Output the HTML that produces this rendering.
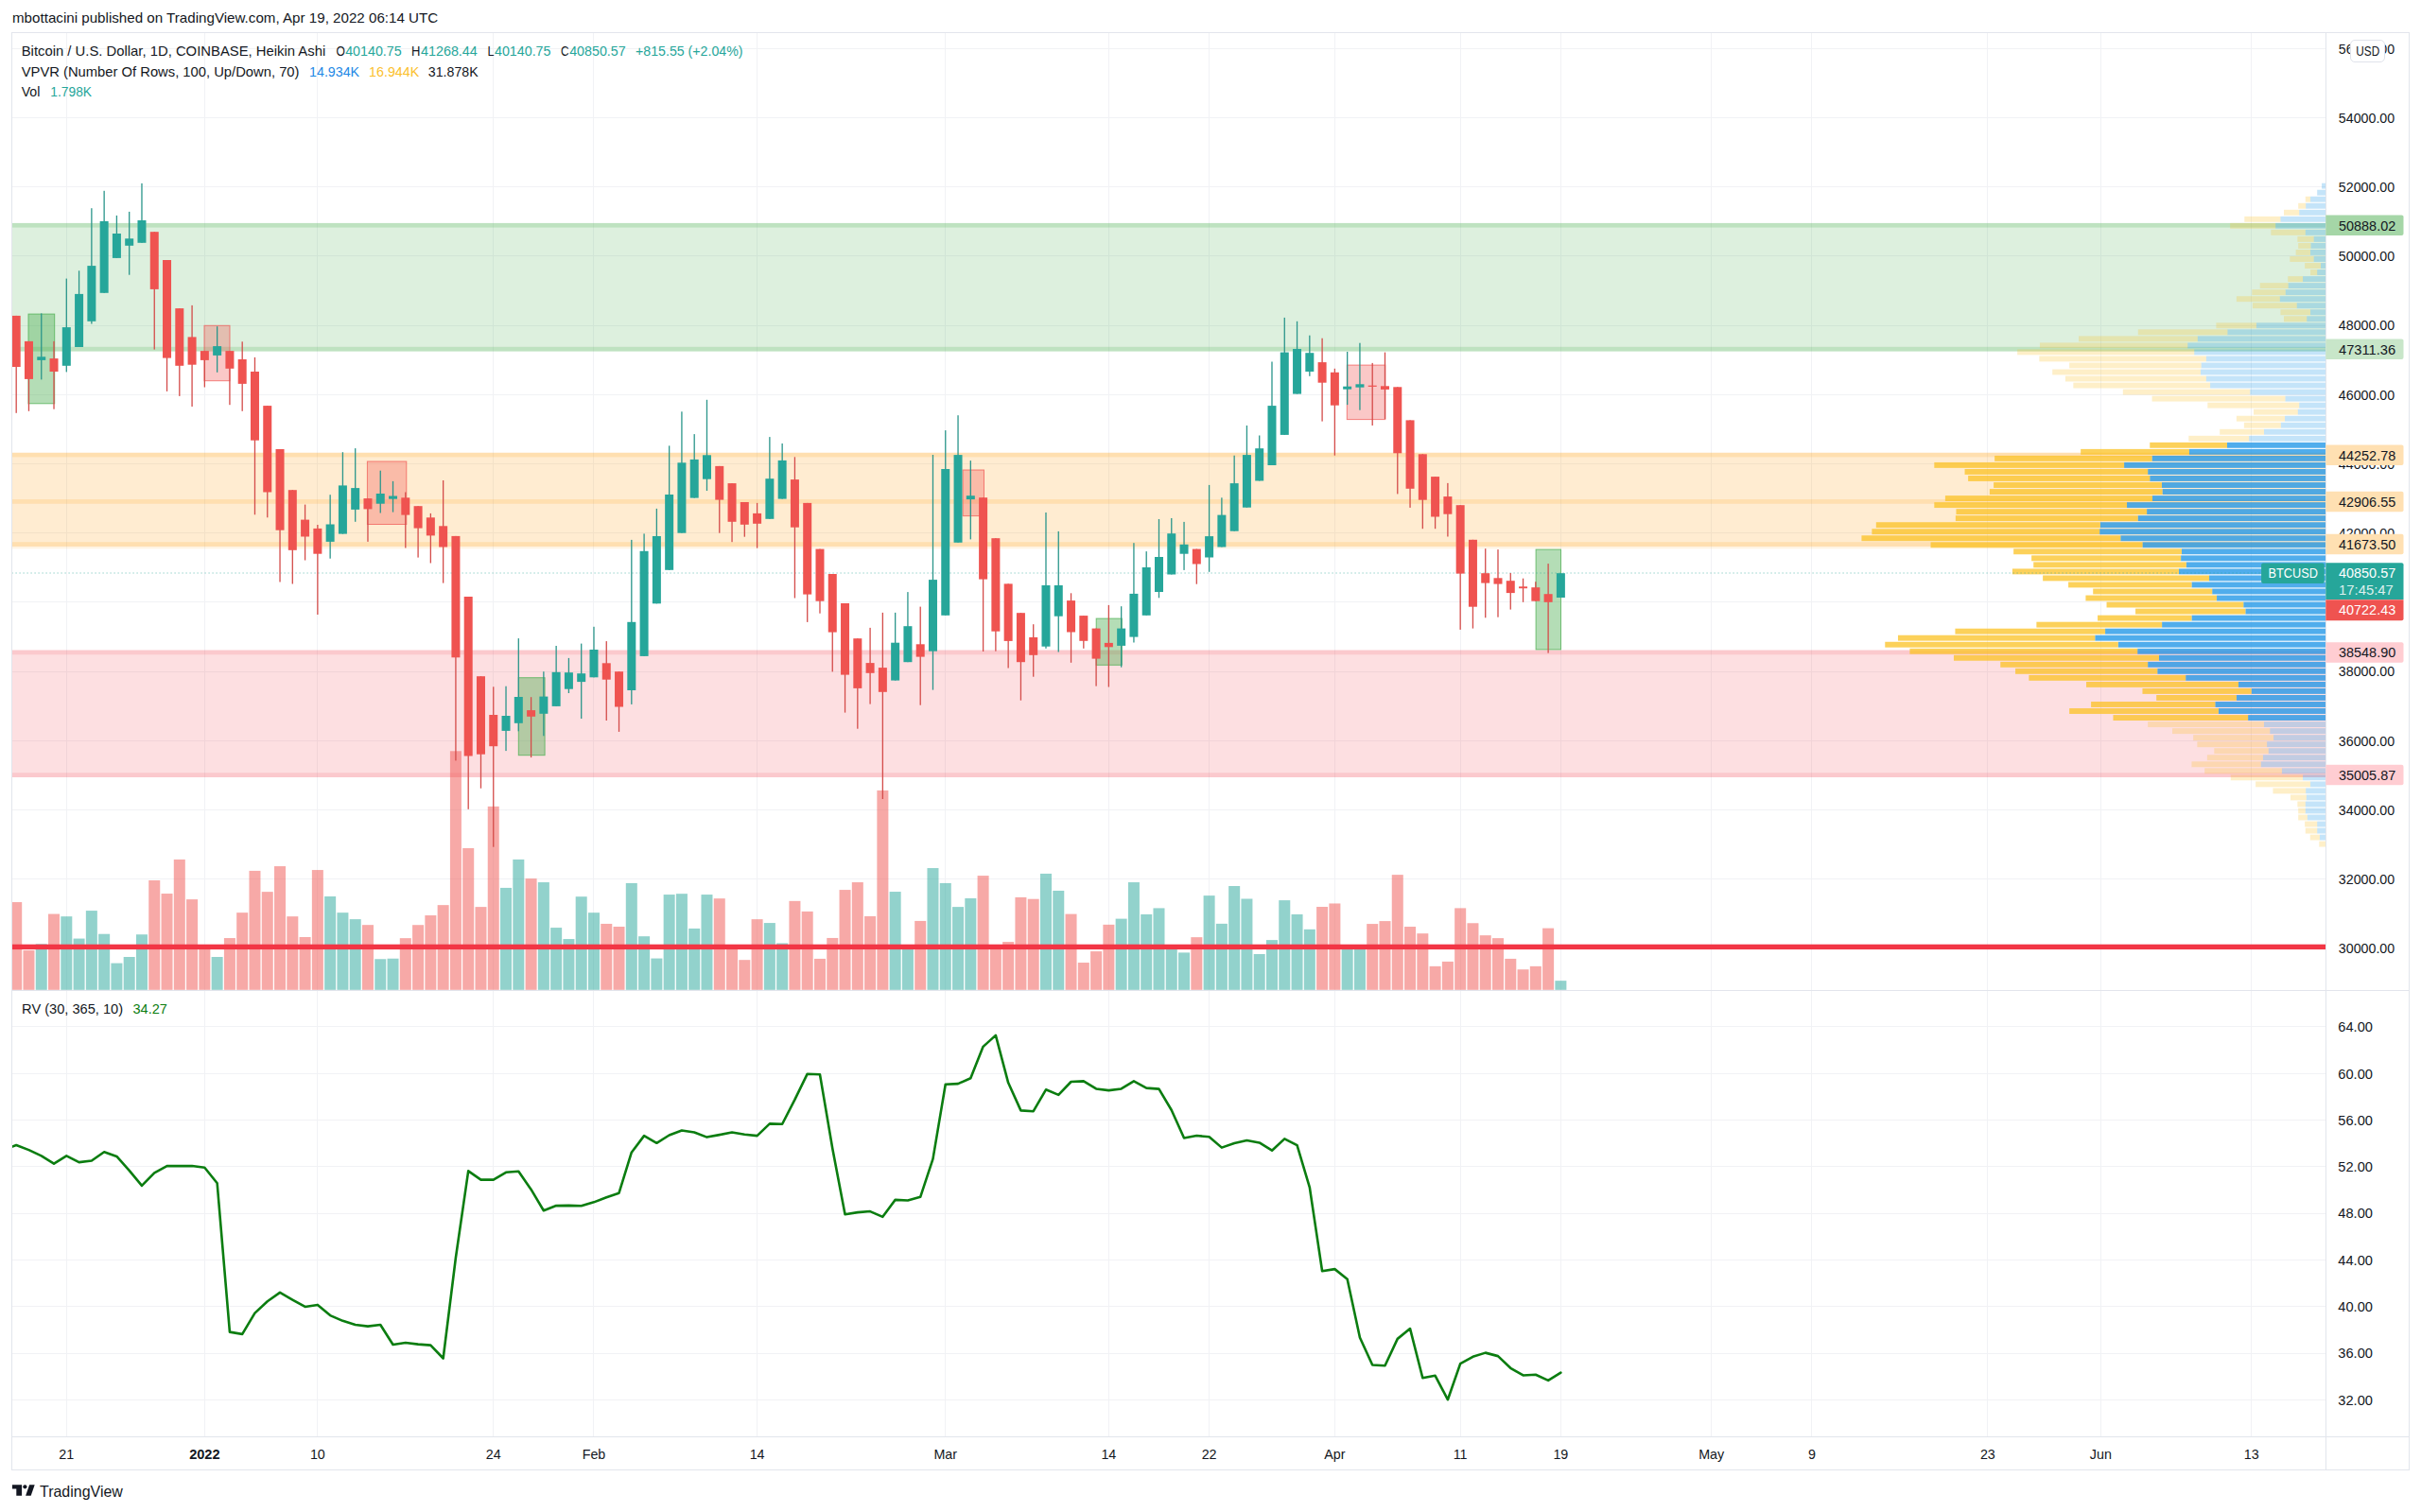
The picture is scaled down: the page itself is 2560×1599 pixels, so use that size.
<!DOCTYPE html>
<html lang="en"><head><meta charset="utf-8"><title>BTCUSD chart</title>
<style>html,body{margin:0;padding:0;background:#fff}body{width:2560px;height:1599px;overflow:hidden}svg{display:block}</style>
</head><body>
<svg width="2560" height="1599" viewBox="0 0 2560 1599" font-family='"Liberation Sans", "DejaVu Sans", sans-serif'>
<rect x="0" y="0" width="2560" height="1599" fill="#ffffff"/>
<defs><clipPath id="cm"><rect x="13.0" y="35.0" width="2446.5" height="1012.0"/></clipPath><clipPath id="cr"><rect x="13.0" y="1048.0" width="2446.5" height="471.0"/></clipPath></defs>
<g shape-rendering="crispEdges">
<line x1="70.5" y1="34.5" x2="70.5" y2="1519.5" stroke="#f1f2f5" stroke-width="1"/>
<line x1="216.5" y1="34.5" x2="216.5" y2="1519.5" stroke="#f1f2f5" stroke-width="1"/>
<line x1="335.5" y1="34.5" x2="335.5" y2="1519.5" stroke="#f1f2f5" stroke-width="1"/>
<line x1="521.5" y1="34.5" x2="521.5" y2="1519.5" stroke="#f1f2f5" stroke-width="1"/>
<line x1="627.5" y1="34.5" x2="627.5" y2="1519.5" stroke="#f1f2f5" stroke-width="1"/>
<line x1="800.5" y1="34.5" x2="800.5" y2="1519.5" stroke="#f1f2f5" stroke-width="1"/>
<line x1="999.5" y1="34.5" x2="999.5" y2="1519.5" stroke="#f1f2f5" stroke-width="1"/>
<line x1="1172.5" y1="34.5" x2="1172.5" y2="1519.5" stroke="#f1f2f5" stroke-width="1"/>
<line x1="1278.5" y1="34.5" x2="1278.5" y2="1519.5" stroke="#f1f2f5" stroke-width="1"/>
<line x1="1411.5" y1="34.5" x2="1411.5" y2="1519.5" stroke="#f1f2f5" stroke-width="1"/>
<line x1="1544.5" y1="34.5" x2="1544.5" y2="1519.5" stroke="#f1f2f5" stroke-width="1"/>
<line x1="1650.5" y1="34.5" x2="1650.5" y2="1519.5" stroke="#f1f2f5" stroke-width="1"/>
<line x1="1809.5" y1="34.5" x2="1809.5" y2="1519.5" stroke="#f1f2f5" stroke-width="1"/>
<line x1="1915.5" y1="34.5" x2="1915.5" y2="1519.5" stroke="#f1f2f5" stroke-width="1"/>
<line x1="2101.5" y1="34.5" x2="2101.5" y2="1519.5" stroke="#f1f2f5" stroke-width="1"/>
<line x1="2221.5" y1="34.5" x2="2221.5" y2="1519.5" stroke="#f1f2f5" stroke-width="1"/>
<line x1="2380.5" y1="34.5" x2="2380.5" y2="1519.5" stroke="#f1f2f5" stroke-width="1"/>
<line x1="12.5" y1="1002.5" x2="2459.5" y2="1002.5" stroke="#f1f2f5" stroke-width="1"/>
<line x1="12.5" y1="929.5" x2="2459.5" y2="929.5" stroke="#f1f2f5" stroke-width="1"/>
<line x1="12.5" y1="856.5" x2="2459.5" y2="856.5" stroke="#f1f2f5" stroke-width="1"/>
<line x1="12.5" y1="783.5" x2="2459.5" y2="783.5" stroke="#f1f2f5" stroke-width="1"/>
<line x1="12.5" y1="710.5" x2="2459.5" y2="710.5" stroke="#f1f2f5" stroke-width="1"/>
<line x1="12.5" y1="636.5" x2="2459.5" y2="636.5" stroke="#f1f2f5" stroke-width="1"/>
<line x1="12.5" y1="563.5" x2="2459.5" y2="563.5" stroke="#f1f2f5" stroke-width="1"/>
<line x1="12.5" y1="490.5" x2="2459.5" y2="490.5" stroke="#f1f2f5" stroke-width="1"/>
<line x1="12.5" y1="417.5" x2="2459.5" y2="417.5" stroke="#f1f2f5" stroke-width="1"/>
<line x1="12.5" y1="344.5" x2="2459.5" y2="344.5" stroke="#f1f2f5" stroke-width="1"/>
<line x1="12.5" y1="270.5" x2="2459.5" y2="270.5" stroke="#f1f2f5" stroke-width="1"/>
<line x1="12.5" y1="197.5" x2="2459.5" y2="197.5" stroke="#f1f2f5" stroke-width="1"/>
<line x1="12.5" y1="124.5" x2="2459.5" y2="124.5" stroke="#f1f2f5" stroke-width="1"/>
<line x1="12.5" y1="51.5" x2="2459.5" y2="51.5" stroke="#f1f2f5" stroke-width="1"/>
<line x1="12.5" y1="1480.5" x2="2459.5" y2="1480.5" stroke="#f1f2f5" stroke-width="1"/>
<line x1="12.5" y1="1431.5" x2="2459.5" y2="1431.5" stroke="#f1f2f5" stroke-width="1"/>
<line x1="12.5" y1="1381.5" x2="2459.5" y2="1381.5" stroke="#f1f2f5" stroke-width="1"/>
<line x1="12.5" y1="1332.5" x2="2459.5" y2="1332.5" stroke="#f1f2f5" stroke-width="1"/>
<line x1="12.5" y1="1283.5" x2="2459.5" y2="1283.5" stroke="#f1f2f5" stroke-width="1"/>
<line x1="12.5" y1="1233.5" x2="2459.5" y2="1233.5" stroke="#f1f2f5" stroke-width="1"/>
<line x1="12.5" y1="1184.5" x2="2459.5" y2="1184.5" stroke="#f1f2f5" stroke-width="1"/>
<line x1="12.5" y1="1135.5" x2="2459.5" y2="1135.5" stroke="#f1f2f5" stroke-width="1"/>
<line x1="12.5" y1="1085.5" x2="2459.5" y2="1085.5" stroke="#f1f2f5" stroke-width="1"/>
</g>
<g clip-path="url(#cm)">
<rect x="12.5" y="240.7" width="2447" height="126.11" fill="rgba(76,175,80,0.19)"/>
<rect x="12.5" y="235.9" width="2447" height="4.8" fill="rgba(76,175,80,0.36)"/>
<rect x="12.5" y="366.8" width="2447" height="4.8" fill="rgba(76,175,80,0.36)"/>
<rect x="12.5" y="483.55" width="2447" height="44.47" fill="rgba(255,152,0,0.18)"/>
<rect x="12.5" y="532.82" width="2447" height="40.33" fill="rgba(255,152,0,0.18)"/>
<rect x="12.5" y="478.75" width="2447" height="4.8" fill="rgba(255,152,0,0.31)"/>
<rect x="12.5" y="528.02" width="2447" height="4.8" fill="rgba(255,152,0,0.31)"/>
<rect x="12.5" y="573.15" width="2447" height="4.8" fill="rgba(255,152,0,0.31)"/>
<rect x="12.5" y="577.95" width="2447" height="2.4" fill="rgba(255,152,0,0.108)"/>
<rect x="12.5" y="692.31" width="2447" height="124.87" fill="rgba(242,54,69,0.16)"/>
<rect x="12.5" y="687.51" width="2447" height="4.8" fill="rgba(242,54,69,0.27)"/>
<rect x="12.5" y="817.19" width="2447" height="4.8" fill="rgba(242,54,69,0.27)"/>
<rect x="2455.05" y="193.7" width="4.25" height="5.9" fill="rgba(21,146,230,0.25)"/>
<rect x="2450.2" y="200.73" width="9.1" height="5.9" fill="rgba(21,146,230,0.25)"/>
<rect x="2443.04" y="207.76" width="16.26" height="5.9" fill="rgba(21,146,230,0.25)"/>
<rect x="2437.78" y="207.76" width="5.27" height="5.9" fill="rgba(251,193,35,0.25)"/>
<rect x="2438.2" y="214.79" width="21.1" height="5.9" fill="rgba(21,146,230,0.25)"/>
<rect x="2430.19" y="214.79" width="8.01" height="5.9" fill="rgba(251,193,35,0.25)"/>
<rect x="2431.24" y="221.82" width="28.06" height="5.9" fill="rgba(21,146,230,0.25)"/>
<rect x="2415.02" y="221.82" width="16.22" height="5.9" fill="rgba(251,193,35,0.25)"/>
<rect x="2411.44" y="228.85" width="47.86" height="5.9" fill="rgba(21,146,230,0.25)"/>
<rect x="2373.31" y="228.85" width="38.13" height="5.9" fill="rgba(251,193,35,0.25)"/>
<rect x="2406.18" y="235.88" width="53.12" height="5.9" fill="rgba(21,146,230,0.25)"/>
<rect x="2358.15" y="235.88" width="48.03" height="5.9" fill="rgba(251,193,35,0.25)"/>
<rect x="2437.78" y="242.91" width="21.52" height="5.9" fill="rgba(21,146,230,0.25)"/>
<rect x="2401.33" y="242.91" width="36.44" height="5.9" fill="rgba(251,193,35,0.25)"/>
<rect x="2446.62" y="249.94" width="12.68" height="5.9" fill="rgba(21,146,230,0.25)"/>
<rect x="2429.35" y="249.94" width="17.27" height="5.9" fill="rgba(251,193,35,0.25)"/>
<rect x="2443.46" y="256.97" width="15.84" height="5.9" fill="rgba(21,146,230,0.25)"/>
<rect x="2430.19" y="256.97" width="13.27" height="5.9" fill="rgba(251,193,35,0.25)"/>
<rect x="2443.04" y="264" width="16.26" height="5.9" fill="rgba(21,146,230,0.25)"/>
<rect x="2427.66" y="264" width="15.38" height="5.9" fill="rgba(251,193,35,0.25)"/>
<rect x="2446.62" y="271.03" width="12.68" height="5.9" fill="rgba(21,146,230,0.25)"/>
<rect x="2421.34" y="271.03" width="25.28" height="5.9" fill="rgba(251,193,35,0.25)"/>
<rect x="2454" y="278.06" width="5.3" height="5.9" fill="rgba(21,146,230,0.25)"/>
<rect x="2437.14" y="278.06" width="16.85" height="5.9" fill="rgba(251,193,35,0.25)"/>
<rect x="2450.2" y="285.09" width="9.1" height="5.9" fill="rgba(21,146,230,0.25)"/>
<rect x="2443.04" y="285.09" width="7.16" height="5.9" fill="rgba(251,193,35,0.25)"/>
<rect x="2435.04" y="292.12" width="24.26" height="5.9" fill="rgba(21,146,230,0.25)"/>
<rect x="2419.24" y="292.12" width="15.8" height="5.9" fill="rgba(251,193,35,0.25)"/>
<rect x="2419.66" y="299.15" width="39.64" height="5.9" fill="rgba(21,146,230,0.25)"/>
<rect x="2389.75" y="299.15" width="29.91" height="5.9" fill="rgba(251,193,35,0.25)"/>
<rect x="2416.71" y="306.18" width="42.59" height="5.9" fill="rgba(21,146,230,0.25)"/>
<rect x="2381.32" y="306.18" width="35.39" height="5.9" fill="rgba(251,193,35,0.25)"/>
<rect x="2410.81" y="313.21" width="48.49" height="5.9" fill="rgba(21,146,230,0.25)"/>
<rect x="2364.89" y="313.21" width="45.92" height="5.9" fill="rgba(251,193,35,0.25)"/>
<rect x="2428.72" y="320.24" width="30.58" height="5.9" fill="rgba(21,146,230,0.25)"/>
<rect x="2381.95" y="320.24" width="46.77" height="5.9" fill="rgba(251,193,35,0.25)"/>
<rect x="2443.04" y="327.27" width="16.26" height="5.9" fill="rgba(21,146,230,0.25)"/>
<rect x="2411.44" y="327.27" width="31.6" height="5.9" fill="rgba(251,193,35,0.25)"/>
<rect x="2439.25" y="334.3" width="20.05" height="5.9" fill="rgba(21,146,230,0.25)"/>
<rect x="2415.02" y="334.3" width="24.23" height="5.9" fill="rgba(251,193,35,0.25)"/>
<rect x="2385.95" y="341.33" width="73.35" height="5.9" fill="rgba(21,146,230,0.25)"/>
<rect x="2343.4" y="341.33" width="42.55" height="5.9" fill="rgba(251,193,35,0.25)"/>
<rect x="2355.41" y="348.36" width="103.89" height="5.9" fill="rgba(21,146,230,0.25)"/>
<rect x="2260.82" y="348.36" width="94.59" height="5.9" fill="rgba(251,193,35,0.25)"/>
<rect x="2323.81" y="355.39" width="135.49" height="5.9" fill="rgba(21,146,230,0.25)"/>
<rect x="2198.05" y="355.39" width="125.76" height="5.9" fill="rgba(251,193,35,0.25)"/>
<rect x="2313.28" y="362.42" width="146.02" height="5.9" fill="rgba(21,146,230,0.25)"/>
<rect x="2156.97" y="362.42" width="156.31" height="5.9" fill="rgba(251,193,35,0.25)"/>
<rect x="2320.23" y="369.45" width="139.07" height="5.9" fill="rgba(21,146,230,0.25)"/>
<rect x="2133.16" y="369.45" width="187.07" height="5.9" fill="rgba(251,193,35,0.25)"/>
<rect x="2332.87" y="376.48" width="126.43" height="5.9" fill="rgba(21,146,230,0.25)"/>
<rect x="2156.33" y="376.48" width="176.53" height="5.9" fill="rgba(251,193,35,0.25)"/>
<rect x="2327.6" y="383.51" width="131.7" height="5.9" fill="rgba(21,146,230,0.25)"/>
<rect x="2188.14" y="383.51" width="139.46" height="5.9" fill="rgba(251,193,35,0.25)"/>
<rect x="2326.97" y="390.54" width="132.33" height="5.9" fill="rgba(21,146,230,0.25)"/>
<rect x="2170.24" y="390.54" width="156.73" height="5.9" fill="rgba(251,193,35,0.25)"/>
<rect x="2332.87" y="397.57" width="126.43" height="5.9" fill="rgba(21,146,230,0.25)"/>
<rect x="2183.93" y="397.57" width="148.94" height="5.9" fill="rgba(251,193,35,0.25)"/>
<rect x="2337.08" y="404.6" width="122.22" height="5.9" fill="rgba(21,146,230,0.25)"/>
<rect x="2192.36" y="404.6" width="144.72" height="5.9" fill="rgba(251,193,35,0.25)"/>
<rect x="2379.21" y="411.63" width="80.09" height="5.9" fill="rgba(21,146,230,0.25)"/>
<rect x="2244.81" y="411.63" width="134.4" height="5.9" fill="rgba(251,193,35,0.25)"/>
<rect x="2416.5" y="418.66" width="42.8" height="5.9" fill="rgba(21,146,230,0.25)"/>
<rect x="2275.57" y="418.66" width="140.93" height="5.9" fill="rgba(251,193,35,0.25)"/>
<rect x="2431.24" y="425.69" width="28.06" height="5.9" fill="rgba(21,146,230,0.25)"/>
<rect x="2334.34" y="425.69" width="96.9" height="5.9" fill="rgba(251,193,35,0.25)"/>
<rect x="2429.77" y="432.72" width="29.53" height="5.9" fill="rgba(21,146,230,0.25)"/>
<rect x="2383" y="432.72" width="46.77" height="5.9" fill="rgba(251,193,35,0.25)"/>
<rect x="2416.08" y="439.75" width="43.22" height="5.9" fill="rgba(21,146,230,0.25)"/>
<rect x="2364.89" y="439.75" width="51.19" height="5.9" fill="rgba(251,193,35,0.25)"/>
<rect x="2411.86" y="446.78" width="47.44" height="5.9" fill="rgba(21,146,230,0.25)"/>
<rect x="2372.89" y="446.78" width="38.97" height="5.9" fill="rgba(251,193,35,0.25)"/>
<rect x="2393.96" y="453.81" width="65.34" height="5.9" fill="rgba(21,146,230,0.25)"/>
<rect x="2347.19" y="453.81" width="46.77" height="5.9" fill="rgba(251,193,35,0.25)"/>
<rect x="2378.16" y="460.84" width="81.14" height="5.9" fill="rgba(21,146,230,0.25)"/>
<rect x="2314.33" y="460.84" width="63.83" height="5.9" fill="rgba(251,193,35,0.25)"/>
<rect x="2354.99" y="467.87" width="104.31" height="5.9" fill="rgba(21,146,230,0.75)"/>
<rect x="2273.25" y="467.87" width="81.74" height="5.9" fill="rgba(251,193,35,0.75)"/>
<rect x="2314.96" y="474.9" width="144.34" height="5.9" fill="rgba(21,146,230,0.75)"/>
<rect x="2200.15" y="474.9" width="114.81" height="5.9" fill="rgba(251,193,35,0.75)"/>
<rect x="2275.57" y="481.93" width="183.73" height="5.9" fill="rgba(21,146,230,0.75)"/>
<rect x="2109.15" y="481.93" width="166.42" height="5.9" fill="rgba(251,193,35,0.75)"/>
<rect x="2246.08" y="488.96" width="213.22" height="5.9" fill="rgba(21,146,230,0.75)"/>
<rect x="2045.32" y="488.96" width="200.76" height="5.9" fill="rgba(251,193,35,0.75)"/>
<rect x="2271.14" y="495.99" width="188.16" height="5.9" fill="rgba(21,146,230,0.75)"/>
<rect x="2077.55" y="495.99" width="193.6" height="5.9" fill="rgba(251,193,35,0.75)"/>
<rect x="2273.25" y="503.02" width="186.05" height="5.9" fill="rgba(21,146,230,0.75)"/>
<rect x="2081.13" y="503.02" width="192.12" height="5.9" fill="rgba(251,193,35,0.75)"/>
<rect x="2285.89" y="510.05" width="173.41" height="5.9" fill="rgba(21,146,230,0.75)"/>
<rect x="2108.09" y="510.05" width="177.8" height="5.9" fill="rgba(251,193,35,0.75)"/>
<rect x="2286.52" y="517.08" width="172.78" height="5.9" fill="rgba(21,146,230,0.75)"/>
<rect x="2103.88" y="517.08" width="182.64" height="5.9" fill="rgba(251,193,35,0.75)"/>
<rect x="2275.99" y="524.11" width="183.31" height="5.9" fill="rgba(21,146,230,0.75)"/>
<rect x="2056.9" y="524.11" width="219.09" height="5.9" fill="rgba(251,193,35,0.75)"/>
<rect x="2249.02" y="531.14" width="210.28" height="5.9" fill="rgba(21,146,230,0.75)"/>
<rect x="2045.32" y="531.14" width="203.71" height="5.9" fill="rgba(251,193,35,0.75)"/>
<rect x="2270.09" y="538.17" width="189.21" height="5.9" fill="rgba(21,146,230,0.75)"/>
<rect x="2068.49" y="538.17" width="201.6" height="5.9" fill="rgba(251,193,35,0.75)"/>
<rect x="2260.61" y="545.2" width="198.69" height="5.9" fill="rgba(21,146,230,0.75)"/>
<rect x="2067.86" y="545.2" width="192.75" height="5.9" fill="rgba(251,193,35,0.75)"/>
<rect x="2220.8" y="552.23" width="238.5" height="5.9" fill="rgba(21,146,230,0.75)"/>
<rect x="1983.8" y="552.23" width="236.99" height="5.9" fill="rgba(251,193,35,0.75)"/>
<rect x="2220.16" y="559.26" width="239.14" height="5.9" fill="rgba(21,146,230,0.75)"/>
<rect x="1979.38" y="559.26" width="240.78" height="5.9" fill="rgba(251,193,35,0.75)"/>
<rect x="2242.28" y="566.29" width="217.02" height="5.9" fill="rgba(21,146,230,0.75)"/>
<rect x="1968.43" y="566.29" width="273.86" height="5.9" fill="rgba(251,193,35,0.75)"/>
<rect x="2265.46" y="573.32" width="193.84" height="5.9" fill="rgba(21,146,230,0.75)"/>
<rect x="2041.53" y="573.32" width="223.93" height="5.9" fill="rgba(251,193,35,0.75)"/>
<rect x="2306.96" y="580.35" width="152.34" height="5.9" fill="rgba(21,146,230,0.75)"/>
<rect x="2129.16" y="580.35" width="177.8" height="5.9" fill="rgba(251,193,35,0.75)"/>
<rect x="2306.11" y="587.38" width="153.19" height="5.9" fill="rgba(21,146,230,0.75)"/>
<rect x="2148.12" y="587.38" width="157.99" height="5.9" fill="rgba(251,193,35,0.75)"/>
<rect x="2311.8" y="594.41" width="147.5" height="5.9" fill="rgba(21,146,230,0.75)"/>
<rect x="2150.23" y="594.41" width="161.58" height="5.9" fill="rgba(251,193,35,0.75)"/>
<rect x="2304.01" y="601.44" width="155.29" height="5.9" fill="rgba(21,146,230,0.75)"/>
<rect x="2127.9" y="601.44" width="176.11" height="5.9" fill="rgba(251,193,35,0.75)"/>
<rect x="2336.03" y="608.47" width="123.27" height="5.9" fill="rgba(21,146,230,0.75)"/>
<rect x="2160.13" y="608.47" width="175.9" height="5.9" fill="rgba(251,193,35,0.75)"/>
<rect x="2317.49" y="615.5" width="141.81" height="5.9" fill="rgba(21,146,230,0.75)"/>
<rect x="2187.09" y="615.5" width="130.4" height="5.9" fill="rgba(251,193,35,0.75)"/>
<rect x="2339.19" y="622.53" width="120.11" height="5.9" fill="rgba(21,146,230,0.75)"/>
<rect x="2213.21" y="622.53" width="125.97" height="5.9" fill="rgba(251,193,35,0.75)"/>
<rect x="2344.03" y="629.56" width="115.27" height="5.9" fill="rgba(21,146,230,0.75)"/>
<rect x="2205.42" y="629.56" width="138.61" height="5.9" fill="rgba(251,193,35,0.75)"/>
<rect x="2372.26" y="636.59" width="87.04" height="5.9" fill="rgba(21,146,230,0.75)"/>
<rect x="2227.54" y="636.59" width="144.72" height="5.9" fill="rgba(251,193,35,0.75)"/>
<rect x="2374.37" y="643.62" width="84.93" height="5.9" fill="rgba(21,146,230,0.75)"/>
<rect x="2258.08" y="643.62" width="116.28" height="5.9" fill="rgba(251,193,35,0.75)"/>
<rect x="2317.49" y="650.65" width="141.81" height="5.9" fill="rgba(21,146,230,0.75)"/>
<rect x="2218.06" y="650.65" width="99.43" height="5.9" fill="rgba(251,193,35,0.75)"/>
<rect x="2286.1" y="657.68" width="173.2" height="5.9" fill="rgba(21,146,230,0.75)"/>
<rect x="2153.39" y="657.68" width="132.72" height="5.9" fill="rgba(251,193,35,0.75)"/>
<rect x="2226.06" y="664.71" width="233.24" height="5.9" fill="rgba(21,146,230,0.75)"/>
<rect x="2067.44" y="664.71" width="158.63" height="5.9" fill="rgba(251,193,35,0.75)"/>
<rect x="2215.32" y="671.74" width="243.98" height="5.9" fill="rgba(21,146,230,0.75)"/>
<rect x="2006.98" y="671.74" width="208.34" height="5.9" fill="rgba(251,193,35,0.75)"/>
<rect x="2239.76" y="678.77" width="219.54" height="5.9" fill="rgba(21,146,230,0.75)"/>
<rect x="1993.28" y="678.77" width="246.47" height="5.9" fill="rgba(251,193,35,0.75)"/>
<rect x="2260.19" y="685.8" width="199.11" height="5.9" fill="rgba(21,146,230,0.75)"/>
<rect x="2019.41" y="685.8" width="240.78" height="5.9" fill="rgba(251,193,35,0.75)"/>
<rect x="2282.94" y="692.83" width="176.36" height="5.9" fill="rgba(21,146,230,0.75)"/>
<rect x="2065.96" y="692.83" width="216.98" height="5.9" fill="rgba(251,193,35,0.75)"/>
<rect x="2271.14" y="699.86" width="188.16" height="5.9" fill="rgba(21,146,230,0.75)"/>
<rect x="2115.26" y="699.86" width="155.89" height="5.9" fill="rgba(251,193,35,0.75)"/>
<rect x="2281.26" y="706.89" width="178.04" height="5.9" fill="rgba(21,146,230,0.75)"/>
<rect x="2131.06" y="706.89" width="150.2" height="5.9" fill="rgba(251,193,35,0.75)"/>
<rect x="2311.17" y="713.92" width="148.13" height="5.9" fill="rgba(21,146,230,0.75)"/>
<rect x="2145.38" y="713.92" width="165.79" height="5.9" fill="rgba(251,193,35,0.75)"/>
<rect x="2366.99" y="720.95" width="92.31" height="5.9" fill="rgba(21,146,230,0.75)"/>
<rect x="2206.05" y="720.95" width="160.94" height="5.9" fill="rgba(251,193,35,0.75)"/>
<rect x="2380.69" y="727.98" width="78.61" height="5.9" fill="rgba(21,146,230,0.75)"/>
<rect x="2265.46" y="727.98" width="115.23" height="5.9" fill="rgba(251,193,35,0.75)"/>
<rect x="2364.89" y="735.01" width="94.41" height="5.9" fill="rgba(21,146,230,0.75)"/>
<rect x="2280.2" y="735.01" width="84.69" height="5.9" fill="rgba(251,193,35,0.75)"/>
<rect x="2342.35" y="742.04" width="116.95" height="5.9" fill="rgba(21,146,230,0.75)"/>
<rect x="2211.11" y="742.04" width="131.24" height="5.9" fill="rgba(251,193,35,0.75)"/>
<rect x="2345.93" y="749.07" width="113.37" height="5.9" fill="rgba(21,146,230,0.75)"/>
<rect x="2188.14" y="749.07" width="157.78" height="5.9" fill="rgba(251,193,35,0.75)"/>
<rect x="2377.11" y="756.1" width="82.19" height="5.9" fill="rgba(21,146,230,0.75)"/>
<rect x="2234.49" y="756.1" width="142.62" height="5.9" fill="rgba(251,193,35,0.75)"/>
<rect x="2393.96" y="763.13" width="65.34" height="5.9" fill="rgba(21,146,230,0.25)"/>
<rect x="2271.14" y="763.13" width="122.81" height="5.9" fill="rgba(251,193,35,0.25)"/>
<rect x="2400.28" y="770.16" width="59.02" height="5.9" fill="rgba(21,146,230,0.25)"/>
<rect x="2297.05" y="770.16" width="103.22" height="5.9" fill="rgba(251,193,35,0.25)"/>
<rect x="2404.07" y="777.19" width="55.23" height="5.9" fill="rgba(21,146,230,0.25)"/>
<rect x="2319.17" y="777.19" width="84.9" height="5.9" fill="rgba(251,193,35,0.25)"/>
<rect x="2397.12" y="784.22" width="62.18" height="5.9" fill="rgba(21,146,230,0.25)"/>
<rect x="2323.39" y="784.22" width="73.73" height="5.9" fill="rgba(251,193,35,0.25)"/>
<rect x="2398.8" y="791.25" width="60.5" height="5.9" fill="rgba(21,146,230,0.25)"/>
<rect x="2341.29" y="791.25" width="57.51" height="5.9" fill="rgba(251,193,35,0.25)"/>
<rect x="2392.9" y="798.28" width="66.4" height="5.9" fill="rgba(21,146,230,0.25)"/>
<rect x="2333.92" y="798.28" width="58.98" height="5.9" fill="rgba(251,193,35,0.25)"/>
<rect x="2390.8" y="805.31" width="68.5" height="5.9" fill="rgba(21,146,230,0.25)"/>
<rect x="2317.49" y="805.31" width="73.31" height="5.9" fill="rgba(251,193,35,0.25)"/>
<rect x="2412.92" y="812.34" width="46.38" height="5.9" fill="rgba(21,146,230,0.25)"/>
<rect x="2331.18" y="812.34" width="81.74" height="5.9" fill="rgba(251,193,35,0.25)"/>
<rect x="2435.04" y="819.37" width="24.26" height="5.9" fill="rgba(21,146,230,0.25)"/>
<rect x="2358.78" y="819.37" width="76.26" height="5.9" fill="rgba(251,193,35,0.25)"/>
<rect x="2443.04" y="826.4" width="16.26" height="5.9" fill="rgba(21,146,230,0.25)"/>
<rect x="2385.11" y="826.4" width="57.93" height="5.9" fill="rgba(251,193,35,0.25)"/>
<rect x="2438.2" y="833.43" width="21.1" height="5.9" fill="rgba(21,146,230,0.25)"/>
<rect x="2403.44" y="833.43" width="34.76" height="5.9" fill="rgba(251,193,35,0.25)"/>
<rect x="2438.83" y="840.46" width="20.47" height="5.9" fill="rgba(21,146,230,0.25)"/>
<rect x="2421.98" y="840.46" width="16.85" height="5.9" fill="rgba(251,193,35,0.25)"/>
<rect x="2437.78" y="847.49" width="21.52" height="5.9" fill="rgba(21,146,230,0.25)"/>
<rect x="2429.35" y="847.49" width="8.43" height="5.9" fill="rgba(251,193,35,0.25)"/>
<rect x="2437.78" y="854.52" width="21.52" height="5.9" fill="rgba(21,146,230,0.25)"/>
<rect x="2430.19" y="854.52" width="7.58" height="5.9" fill="rgba(251,193,35,0.25)"/>
<rect x="2439.88" y="861.55" width="19.42" height="5.9" fill="rgba(21,146,230,0.25)"/>
<rect x="2430.19" y="861.55" width="9.69" height="5.9" fill="rgba(251,193,35,0.25)"/>
<rect x="2450.2" y="868.58" width="9.1" height="5.9" fill="rgba(21,146,230,0.25)"/>
<rect x="2437.14" y="868.58" width="13.06" height="5.9" fill="rgba(251,193,35,0.25)"/>
<rect x="2450.2" y="875.61" width="9.1" height="5.9" fill="rgba(21,146,230,0.25)"/>
<rect x="2437.78" y="875.61" width="12.43" height="5.9" fill="rgba(251,193,35,0.25)"/>
<rect x="2452.94" y="882.64" width="6.36" height="5.9" fill="rgba(21,146,230,0.25)"/>
<rect x="2442.83" y="882.64" width="10.11" height="5.9" fill="rgba(251,193,35,0.25)"/>
<rect x="2459.26" y="889.67" width="0.04" height="5.9" fill="rgba(21,146,230,0.25)"/>
<rect x="2452.31" y="889.67" width="6.95" height="5.9" fill="rgba(251,193,35,0.25)"/>
<rect x="11.19" y="954.06" width="12" height="92.74" fill="rgba(239,83,80,0.5)"/>
<rect x="24.47" y="1005.07" width="12" height="41.73" fill="rgba(239,83,80,0.5)"/>
<rect x="37.75" y="998.3" width="12" height="48.5" fill="rgba(38,166,154,0.5)"/>
<rect x="51.02" y="966.55" width="12" height="80.25" fill="rgba(239,83,80,0.5)"/>
<rect x="64.3" y="969.15" width="12" height="77.65" fill="rgba(38,166,154,0.5)"/>
<rect x="77.58" y="992.57" width="12" height="54.23" fill="rgba(38,166,154,0.5)"/>
<rect x="90.86" y="963.08" width="12" height="83.72" fill="rgba(38,166,154,0.5)"/>
<rect x="104.14" y="987.72" width="12" height="59.08" fill="rgba(38,166,154,0.5)"/>
<rect x="117.41" y="1018.6" width="12" height="28.2" fill="rgba(38,166,154,0.5)"/>
<rect x="130.69" y="1012.01" width="12" height="34.79" fill="rgba(38,166,154,0.5)"/>
<rect x="143.97" y="988.24" width="12" height="58.56" fill="rgba(38,166,154,0.5)"/>
<rect x="157.25" y="930.99" width="12" height="115.81" fill="rgba(239,83,80,0.5)"/>
<rect x="170.53" y="945.04" width="12" height="101.76" fill="rgba(239,83,80,0.5)"/>
<rect x="183.8" y="908.95" width="12" height="137.85" fill="rgba(239,83,80,0.5)"/>
<rect x="197.08" y="951.11" width="12" height="95.69" fill="rgba(239,83,80,0.5)"/>
<rect x="210.36" y="999.51" width="12" height="47.29" fill="rgba(239,83,80,0.5)"/>
<rect x="223.64" y="1012.01" width="12" height="34.79" fill="rgba(38,166,154,0.5)"/>
<rect x="236.92" y="992.05" width="12" height="54.75" fill="rgba(239,83,80,0.5)"/>
<rect x="250.19" y="965.16" width="12" height="81.64" fill="rgba(239,83,80,0.5)"/>
<rect x="263.47" y="920.92" width="12" height="125.88" fill="rgba(239,83,80,0.5)"/>
<rect x="276.75" y="943.13" width="12" height="103.67" fill="rgba(239,83,80,0.5)"/>
<rect x="290.03" y="916.07" width="12" height="130.73" fill="rgba(239,83,80,0.5)"/>
<rect x="303.31" y="969.15" width="12" height="77.65" fill="rgba(239,83,80,0.5)"/>
<rect x="316.58" y="991.01" width="12" height="55.79" fill="rgba(239,83,80,0.5)"/>
<rect x="329.86" y="920.06" width="12" height="126.74" fill="rgba(239,83,80,0.5)"/>
<rect x="343.14" y="947.99" width="12" height="98.81" fill="rgba(38,166,154,0.5)"/>
<rect x="356.42" y="965.16" width="12" height="81.64" fill="rgba(38,166,154,0.5)"/>
<rect x="369.7" y="972.1" width="12" height="74.7" fill="rgba(38,166,154,0.5)"/>
<rect x="382.97" y="978.17" width="12" height="68.63" fill="rgba(239,83,80,0.5)"/>
<rect x="396.25" y="1014.26" width="12" height="32.54" fill="rgba(38,166,154,0.5)"/>
<rect x="409.53" y="1013.74" width="12" height="33.06" fill="rgba(38,166,154,0.5)"/>
<rect x="422.81" y="992.14" width="12" height="54.66" fill="rgba(239,83,80,0.5)"/>
<rect x="436.09" y="978.21" width="12" height="68.59" fill="rgba(239,83,80,0.5)"/>
<rect x="449.36" y="968.04" width="12" height="78.76" fill="rgba(239,83,80,0.5)"/>
<rect x="462.64" y="957.14" width="12" height="89.66" fill="rgba(239,83,80,0.5)"/>
<rect x="475.92" y="794.29" width="12" height="252.51" fill="rgba(239,83,80,0.5)"/>
<rect x="489.2" y="896.96" width="12" height="149.84" fill="rgba(239,83,80,0.5)"/>
<rect x="502.48" y="959.11" width="12" height="87.69" fill="rgba(239,83,80,0.5)"/>
<rect x="515.75" y="852.86" width="12" height="193.94" fill="rgba(239,83,80,0.5)"/>
<rect x="529.03" y="938.93" width="12" height="107.87" fill="rgba(38,166,154,0.5)"/>
<rect x="542.31" y="908.93" width="12" height="137.87" fill="rgba(38,166,154,0.5)"/>
<rect x="555.59" y="929.11" width="12" height="117.69" fill="rgba(239,83,80,0.5)"/>
<rect x="568.87" y="933.04" width="12" height="113.76" fill="rgba(38,166,154,0.5)"/>
<rect x="582.14" y="981.07" width="12" height="65.73" fill="rgba(38,166,154,0.5)"/>
<rect x="595.42" y="993.04" width="12" height="53.76" fill="rgba(38,166,154,0.5)"/>
<rect x="608.7" y="948.21" width="12" height="98.59" fill="rgba(38,166,154,0.5)"/>
<rect x="621.98" y="965.18" width="12" height="81.62" fill="rgba(38,166,154,0.5)"/>
<rect x="635.26" y="976.96" width="12" height="69.84" fill="rgba(239,83,80,0.5)"/>
<rect x="648.53" y="980" width="12" height="66.8" fill="rgba(239,83,80,0.5)"/>
<rect x="661.81" y="933.93" width="12" height="112.87" fill="rgba(38,166,154,0.5)"/>
<rect x="675.09" y="990.18" width="12" height="56.62" fill="rgba(38,166,154,0.5)"/>
<rect x="688.37" y="1013.57" width="12" height="33.23" fill="rgba(38,166,154,0.5)"/>
<rect x="701.65" y="946.07" width="12" height="100.73" fill="rgba(38,166,154,0.5)"/>
<rect x="714.92" y="945.18" width="12" height="101.62" fill="rgba(38,166,154,0.5)"/>
<rect x="728.2" y="981.96" width="12" height="64.84" fill="rgba(38,166,154,0.5)"/>
<rect x="741.48" y="946.07" width="12" height="100.73" fill="rgba(38,166,154,0.5)"/>
<rect x="754.76" y="950.18" width="12" height="96.62" fill="rgba(239,83,80,0.5)"/>
<rect x="768.04" y="1000.54" width="12" height="46.26" fill="rgba(239,83,80,0.5)"/>
<rect x="781.31" y="1015.18" width="12" height="31.62" fill="rgba(239,83,80,0.5)"/>
<rect x="794.59" y="972.14" width="12" height="74.66" fill="rgba(239,83,80,0.5)"/>
<rect x="807.87" y="976.07" width="12" height="70.73" fill="rgba(38,166,154,0.5)"/>
<rect x="821.15" y="997.5" width="12" height="49.3" fill="rgba(38,166,154,0.5)"/>
<rect x="834.43" y="952.86" width="12" height="93.94" fill="rgba(239,83,80,0.5)"/>
<rect x="847.7" y="963.93" width="12" height="82.87" fill="rgba(239,83,80,0.5)"/>
<rect x="860.98" y="1013.93" width="12" height="32.87" fill="rgba(239,83,80,0.5)"/>
<rect x="874.26" y="991.96" width="12" height="54.84" fill="rgba(239,83,80,0.5)"/>
<rect x="887.54" y="941.07" width="12" height="105.73" fill="rgba(239,83,80,0.5)"/>
<rect x="900.82" y="933.04" width="12" height="113.76" fill="rgba(239,83,80,0.5)"/>
<rect x="914.09" y="968.93" width="12" height="77.87" fill="rgba(239,83,80,0.5)"/>
<rect x="927.37" y="835.89" width="12" height="210.91" fill="rgba(239,83,80,0.5)"/>
<rect x="940.65" y="943.04" width="12" height="103.76" fill="rgba(38,166,154,0.5)"/>
<rect x="953.93" y="1000.54" width="12" height="46.26" fill="rgba(38,166,154,0.5)"/>
<rect x="967.21" y="973.93" width="12" height="72.87" fill="rgba(239,83,80,0.5)"/>
<rect x="980.48" y="918.04" width="12" height="128.76" fill="rgba(38,166,154,0.5)"/>
<rect x="993.76" y="933.93" width="12" height="112.87" fill="rgba(38,166,154,0.5)"/>
<rect x="1007.04" y="959.11" width="12" height="87.69" fill="rgba(38,166,154,0.5)"/>
<rect x="1020.32" y="950" width="12" height="96.8" fill="rgba(38,166,154,0.5)"/>
<rect x="1033.6" y="926.07" width="12" height="120.73" fill="rgba(239,83,80,0.5)"/>
<rect x="1046.87" y="1000.54" width="12" height="46.26" fill="rgba(239,83,80,0.5)"/>
<rect x="1060.15" y="996.07" width="12" height="50.73" fill="rgba(239,83,80,0.5)"/>
<rect x="1073.43" y="948.93" width="12" height="97.87" fill="rgba(239,83,80,0.5)"/>
<rect x="1086.71" y="950.71" width="12" height="96.09" fill="rgba(239,83,80,0.5)"/>
<rect x="1099.99" y="923.93" width="12" height="122.87" fill="rgba(38,166,154,0.5)"/>
<rect x="1113.26" y="941.96" width="12" height="104.84" fill="rgba(38,166,154,0.5)"/>
<rect x="1126.54" y="966.61" width="12" height="80.19" fill="rgba(239,83,80,0.5)"/>
<rect x="1139.82" y="1018.04" width="12" height="28.76" fill="rgba(239,83,80,0.5)"/>
<rect x="1153.1" y="1006.07" width="12" height="40.73" fill="rgba(239,83,80,0.5)"/>
<rect x="1166.38" y="977.86" width="12" height="68.94" fill="rgba(239,83,80,0.5)"/>
<rect x="1179.65" y="971.61" width="12" height="75.19" fill="rgba(38,166,154,0.5)"/>
<rect x="1192.93" y="933.04" width="12" height="113.76" fill="rgba(38,166,154,0.5)"/>
<rect x="1206.21" y="966.95" width="12" height="79.85" fill="rgba(38,166,154,0.5)"/>
<rect x="1219.49" y="960.41" width="12" height="86.39" fill="rgba(38,166,154,0.5)"/>
<rect x="1232.77" y="1001.05" width="12" height="45.75" fill="rgba(38,166,154,0.5)"/>
<rect x="1246.04" y="1007.4" width="12" height="39.4" fill="rgba(38,166,154,0.5)"/>
<rect x="1259.32" y="991.14" width="12" height="55.66" fill="rgba(239,83,80,0.5)"/>
<rect x="1272.6" y="947.13" width="12" height="99.67" fill="rgba(38,166,154,0.5)"/>
<rect x="1285.88" y="976.87" width="12" height="69.93" fill="rgba(38,166,154,0.5)"/>
<rect x="1299.16" y="937.02" width="12" height="109.78" fill="rgba(38,166,154,0.5)"/>
<rect x="1312.43" y="950.5" width="12" height="96.3" fill="rgba(38,166,154,0.5)"/>
<rect x="1325.71" y="1008.98" width="12" height="37.82" fill="rgba(38,166,154,0.5)"/>
<rect x="1338.99" y="994.12" width="12" height="52.68" fill="rgba(38,166,154,0.5)"/>
<rect x="1352.27" y="952.09" width="12" height="94.71" fill="rgba(38,166,154,0.5)"/>
<rect x="1365.55" y="966.95" width="12" height="79.85" fill="rgba(38,166,154,0.5)"/>
<rect x="1378.82" y="982.82" width="12" height="63.98" fill="rgba(38,166,154,0.5)"/>
<rect x="1392.1" y="959.02" width="12" height="87.78" fill="rgba(239,83,80,0.5)"/>
<rect x="1405.38" y="955.46" width="12" height="91.34" fill="rgba(239,83,80,0.5)"/>
<rect x="1418.66" y="1001.05" width="12" height="45.75" fill="rgba(38,166,154,0.5)"/>
<rect x="1431.94" y="1001.05" width="12" height="45.75" fill="rgba(38,166,154,0.5)"/>
<rect x="1445.21" y="977.07" width="12" height="69.73" fill="rgba(239,83,80,0.5)"/>
<rect x="1458.49" y="974.09" width="12" height="72.71" fill="rgba(239,83,80,0.5)"/>
<rect x="1471.77" y="925.12" width="12" height="121.68" fill="rgba(239,83,80,0.5)"/>
<rect x="1485.05" y="980.04" width="12" height="66.76" fill="rgba(239,83,80,0.5)"/>
<rect x="1498.33" y="987.18" width="12" height="59.62" fill="rgba(239,83,80,0.5)"/>
<rect x="1511.6" y="1021.87" width="12" height="24.93" fill="rgba(239,83,80,0.5)"/>
<rect x="1524.88" y="1016.92" width="12" height="29.88" fill="rgba(239,83,80,0.5)"/>
<rect x="1538.16" y="960.41" width="12" height="86.39" fill="rgba(239,83,80,0.5)"/>
<rect x="1551.44" y="976.27" width="12" height="70.53" fill="rgba(239,83,80,0.5)"/>
<rect x="1564.72" y="989.16" width="12" height="57.64" fill="rgba(239,83,80,0.5)"/>
<rect x="1577.99" y="992.13" width="12" height="54.67" fill="rgba(239,83,80,0.5)"/>
<rect x="1591.27" y="1013.94" width="12" height="32.86" fill="rgba(239,83,80,0.5)"/>
<rect x="1604.55" y="1025.24" width="12" height="21.56" fill="rgba(239,83,80,0.5)"/>
<rect x="1617.83" y="1021.87" width="12" height="24.93" fill="rgba(239,83,80,0.5)"/>
<rect x="1631.11" y="981.63" width="12" height="65.17" fill="rgba(239,83,80,0.5)"/>
<rect x="1644.38" y="1037.14" width="12" height="9.66" fill="rgba(38,166,154,0.5)"/>
<rect x="30" y="332.1" width="27.7" height="94.7" fill="rgba(76,175,80,0.42)" stroke="rgba(76,175,80,0.75)" stroke-width="1"/>
<rect x="216" y="344.3" width="27" height="58.4" fill="rgba(239,83,80,0.32)" stroke="rgba(239,83,80,0.7)" stroke-width="1"/>
<rect x="388.4" y="488" width="41.4" height="66.5" fill="rgba(239,83,80,0.32)" stroke="rgba(239,83,80,0.7)" stroke-width="1"/>
<rect x="548.3" y="716.7" width="27.8" height="82" fill="rgba(76,175,80,0.42)" stroke="rgba(76,175,80,0.75)" stroke-width="1"/>
<rect x="1018.1" y="497" width="22.4" height="48.6" fill="rgba(239,83,80,0.32)" stroke="rgba(239,83,80,0.7)" stroke-width="1"/>
<rect x="1159.2" y="654.1" width="27.1" height="49.2" fill="rgba(76,175,80,0.42)" stroke="rgba(76,175,80,0.75)" stroke-width="1"/>
<rect x="1424.3" y="386.1" width="40.5" height="57.5" fill="rgba(239,83,80,0.32)" stroke="rgba(239,83,80,0.7)" stroke-width="1"/>
<rect x="1624.1" y="581.1" width="26.4" height="105.8" fill="rgba(76,175,80,0.42)" stroke="rgba(76,175,80,0.75)" stroke-width="1"/>
<rect x="12.5" y="998.7" width="2447" height="5.4" fill="#f23645"/>
<line x1="12.5" y1="606" x2="2391" y2="606" stroke="#26a69a" stroke-width="1" stroke-dasharray="1.2 2.8" opacity="0.6"/>
<rect x="16.54" y="333.9" width="1.3" height="102.9" fill="#d44c4a"/>
<rect x="12.69" y="333.9" width="9" height="54.1" fill="#ef5350"/>
<rect x="29.82" y="360.9" width="1.3" height="73.9" fill="#d44c4a"/>
<rect x="25.97" y="360.9" width="9" height="40" fill="#ef5350"/>
<rect x="43.1" y="331.4" width="1.3" height="70" fill="#2b968b"/>
<rect x="39.25" y="377.3" width="9" height="3.6" fill="#26a69a"/>
<rect x="56.37" y="360.9" width="1.3" height="71.8" fill="#d44c4a"/>
<rect x="52.52" y="379.1" width="9" height="13.9" fill="#ef5350"/>
<rect x="69.65" y="294.6" width="1.3" height="98.8" fill="#2b968b"/>
<rect x="65.8" y="346.1" width="9" height="40.7" fill="#26a69a"/>
<rect x="82.93" y="286.3" width="1.3" height="80.7" fill="#2b968b"/>
<rect x="79.08" y="310.9" width="9" height="56.1" fill="#26a69a"/>
<rect x="96.21" y="220.2" width="1.3" height="122.3" fill="#2b968b"/>
<rect x="92.36" y="281.1" width="9" height="58.7" fill="#26a69a"/>
<rect x="109.49" y="201.8" width="1.3" height="108" fill="#2b968b"/>
<rect x="105.64" y="233.9" width="9" height="75.9" fill="#26a69a"/>
<rect x="122.76" y="227.9" width="1.3" height="45" fill="#2b968b"/>
<rect x="118.91" y="247" width="9" height="25.9" fill="#26a69a"/>
<rect x="136.04" y="223.9" width="1.3" height="66.8" fill="#2b968b"/>
<rect x="132.19" y="252.3" width="9" height="7.5" fill="#26a69a"/>
<rect x="149.32" y="193.9" width="1.3" height="62.9" fill="#2b968b"/>
<rect x="145.47" y="233" width="9" height="23.8" fill="#26a69a"/>
<rect x="162.6" y="245.2" width="1.3" height="124.4" fill="#d44c4a"/>
<rect x="158.75" y="245.2" width="9" height="60.7" fill="#ef5350"/>
<rect x="175.88" y="275" width="1.3" height="138.9" fill="#d44c4a"/>
<rect x="172.03" y="275" width="9" height="103.6" fill="#ef5350"/>
<rect x="189.15" y="326.1" width="1.3" height="92.8" fill="#d44c4a"/>
<rect x="185.3" y="326.1" width="9" height="60.7" fill="#ef5350"/>
<rect x="202.43" y="322.9" width="1.3" height="107.1" fill="#d44c4a"/>
<rect x="198.58" y="356.4" width="9" height="29.3" fill="#ef5350"/>
<rect x="215.71" y="371.1" width="1.3" height="38.4" fill="#d44c4a"/>
<rect x="211.86" y="371.1" width="9" height="9.8" fill="#ef5350"/>
<rect x="228.99" y="345.2" width="1.3" height="48.6" fill="#2b968b"/>
<rect x="225.14" y="366.1" width="9" height="9.8" fill="#26a69a"/>
<rect x="242.27" y="371.1" width="1.3" height="57.1" fill="#d44c4a"/>
<rect x="238.42" y="371.1" width="9" height="18.7" fill="#ef5350"/>
<rect x="255.54" y="361.3" width="1.3" height="73.5" fill="#d44c4a"/>
<rect x="251.69" y="380" width="9" height="25.9" fill="#ef5350"/>
<rect x="268.82" y="377.9" width="1.3" height="166.4" fill="#d44c4a"/>
<rect x="264.97" y="393" width="9" height="72.7" fill="#ef5350"/>
<rect x="282.1" y="429.1" width="1.3" height="118.2" fill="#d44c4a"/>
<rect x="278.25" y="429.1" width="9" height="91.4" fill="#ef5350"/>
<rect x="295.38" y="475" width="1.3" height="140.5" fill="#d44c4a"/>
<rect x="291.53" y="475" width="9" height="85.7" fill="#ef5350"/>
<rect x="308.66" y="518.2" width="1.3" height="99.3" fill="#d44c4a"/>
<rect x="304.81" y="518.2" width="9" height="63.6" fill="#ef5350"/>
<rect x="321.93" y="533.6" width="1.3" height="58.9" fill="#d44c4a"/>
<rect x="318.08" y="549.6" width="9" height="17.9" fill="#ef5350"/>
<rect x="335.21" y="555" width="1.3" height="95" fill="#d44c4a"/>
<rect x="331.36" y="558.9" width="9" height="26.8" fill="#ef5350"/>
<rect x="348.49" y="523.2" width="1.3" height="67.5" fill="#2b968b"/>
<rect x="344.64" y="554.5" width="9" height="18.4" fill="#26a69a"/>
<rect x="361.77" y="478.2" width="1.3" height="86.4" fill="#2b968b"/>
<rect x="357.92" y="513.4" width="9" height="51.2" fill="#26a69a"/>
<rect x="375.05" y="474.1" width="1.3" height="77.7" fill="#2b968b"/>
<rect x="371.2" y="516.1" width="9" height="22.8" fill="#26a69a"/>
<rect x="388.32" y="527.1" width="1.3" height="45.8" fill="#d44c4a"/>
<rect x="384.47" y="527.1" width="9" height="11.3" fill="#ef5350"/>
<rect x="401.6" y="497.7" width="1.3" height="44.8" fill="#2b968b"/>
<rect x="397.75" y="522" width="9" height="10.7" fill="#26a69a"/>
<rect x="414.88" y="508.9" width="1.3" height="32.7" fill="#2b968b"/>
<rect x="411.03" y="524.5" width="9" height="3.2" fill="#26a69a"/>
<rect x="428.16" y="520.5" width="1.3" height="59" fill="#d44c4a"/>
<rect x="424.31" y="526.3" width="9" height="18.3" fill="#ef5350"/>
<rect x="441.44" y="535.2" width="1.3" height="54.4" fill="#d44c4a"/>
<rect x="437.59" y="535.2" width="9" height="23.4" fill="#ef5350"/>
<rect x="454.71" y="542.9" width="1.3" height="52.6" fill="#d44c4a"/>
<rect x="450.86" y="547.3" width="9" height="19.1" fill="#ef5350"/>
<rect x="467.99" y="508" width="1.3" height="108.6" fill="#d44c4a"/>
<rect x="464.14" y="556.3" width="9" height="22.2" fill="#ef5350"/>
<rect x="481.27" y="566.9" width="1.3" height="237.5" fill="#d44c4a"/>
<rect x="477.42" y="566.9" width="9" height="128.4" fill="#ef5350"/>
<rect x="494.55" y="631" width="1.3" height="224.8" fill="#d44c4a"/>
<rect x="490.7" y="631" width="9" height="168.5" fill="#ef5350"/>
<rect x="507.83" y="715.2" width="1.3" height="118.5" fill="#d44c4a"/>
<rect x="503.98" y="715.2" width="9" height="82.5" fill="#ef5350"/>
<rect x="521.1" y="726.3" width="1.3" height="169.4" fill="#d44c4a"/>
<rect x="517.25" y="756" width="9" height="33.2" fill="#ef5350"/>
<rect x="534.38" y="725.7" width="1.3" height="68.4" fill="#2b968b"/>
<rect x="530.53" y="757" width="9" height="15.9" fill="#26a69a"/>
<rect x="547.66" y="675.1" width="1.3" height="98.2" fill="#2b968b"/>
<rect x="543.81" y="737" width="9" height="27.8" fill="#26a69a"/>
<rect x="560.94" y="737.2" width="1.3" height="63.9" fill="#d44c4a"/>
<rect x="557.09" y="751.1" width="9" height="6.7" fill="#ef5350"/>
<rect x="574.22" y="710.2" width="1.3" height="68.1" fill="#2b968b"/>
<rect x="570.37" y="736.6" width="9" height="18.2" fill="#26a69a"/>
<rect x="587.49" y="683" width="1.3" height="63.9" fill="#2b968b"/>
<rect x="583.64" y="710.8" width="9" height="36.1" fill="#26a69a"/>
<rect x="600.77" y="695.9" width="1.3" height="37.1" fill="#2b968b"/>
<rect x="596.92" y="711.2" width="9" height="17.5" fill="#26a69a"/>
<rect x="614.05" y="680.6" width="1.3" height="79.4" fill="#2b968b"/>
<rect x="610.2" y="712.2" width="9" height="8.9" fill="#26a69a"/>
<rect x="627.33" y="662.8" width="1.3" height="53.5" fill="#2b968b"/>
<rect x="623.48" y="687" width="9" height="29.3" fill="#26a69a"/>
<rect x="640.61" y="678.1" width="1.3" height="83.9" fill="#d44c4a"/>
<rect x="636.76" y="701.3" width="9" height="17.4" fill="#ef5350"/>
<rect x="653.88" y="710.2" width="1.3" height="63.7" fill="#d44c4a"/>
<rect x="650.03" y="710.2" width="9" height="37.3" fill="#ef5350"/>
<rect x="667.16" y="570.9" width="1.3" height="174" fill="#2b968b"/>
<rect x="663.31" y="657.8" width="9" height="72.2" fill="#26a69a"/>
<rect x="680.44" y="564.4" width="1.3" height="129.5" fill="#2b968b"/>
<rect x="676.59" y="582.8" width="9" height="111.1" fill="#26a69a"/>
<rect x="693.72" y="537.9" width="1.3" height="100.4" fill="#2b968b"/>
<rect x="689.87" y="567" width="9" height="71.3" fill="#26a69a"/>
<rect x="707" y="471.4" width="1.3" height="131.4" fill="#2b968b"/>
<rect x="703.15" y="523" width="9" height="79.8" fill="#26a69a"/>
<rect x="720.27" y="435.3" width="1.3" height="128.4" fill="#2b968b"/>
<rect x="716.42" y="489.3" width="9" height="74.4" fill="#26a69a"/>
<rect x="733.55" y="459.1" width="1.3" height="67.5" fill="#2b968b"/>
<rect x="729.7" y="485.9" width="9" height="40.7" fill="#26a69a"/>
<rect x="746.83" y="422.8" width="1.3" height="96.2" fill="#2b968b"/>
<rect x="742.98" y="481.3" width="9" height="25.4" fill="#26a69a"/>
<rect x="760.11" y="492.9" width="1.3" height="70.8" fill="#d44c4a"/>
<rect x="756.26" y="492.9" width="9" height="35.7" fill="#ef5350"/>
<rect x="773.39" y="511.1" width="1.3" height="62.1" fill="#d44c4a"/>
<rect x="769.54" y="511.1" width="9" height="40.7" fill="#ef5350"/>
<rect x="786.66" y="531" width="1.3" height="36.7" fill="#d44c4a"/>
<rect x="782.81" y="531" width="9" height="23.8" fill="#ef5350"/>
<rect x="799.94" y="531.9" width="1.3" height="47.7" fill="#d44c4a"/>
<rect x="796.09" y="542.9" width="9" height="10.9" fill="#ef5350"/>
<rect x="813.22" y="462.1" width="1.3" height="86.7" fill="#2b968b"/>
<rect x="809.37" y="506.2" width="9" height="42.6" fill="#26a69a"/>
<rect x="826.5" y="469" width="1.3" height="58.6" fill="#2b968b"/>
<rect x="822.65" y="486.9" width="9" height="40.7" fill="#26a69a"/>
<rect x="839.78" y="483.3" width="1.3" height="149.2" fill="#d44c4a"/>
<rect x="835.93" y="507.1" width="9" height="50.6" fill="#ef5350"/>
<rect x="853.05" y="531.9" width="1.3" height="126" fill="#d44c4a"/>
<rect x="849.2" y="531.9" width="9" height="96.7" fill="#ef5350"/>
<rect x="866.33" y="580.6" width="1.3" height="68.1" fill="#d44c4a"/>
<rect x="862.48" y="580.6" width="9" height="55.1" fill="#ef5350"/>
<rect x="879.61" y="607" width="1.3" height="103.4" fill="#d44c4a"/>
<rect x="875.76" y="607" width="9" height="61.6" fill="#ef5350"/>
<rect x="892.89" y="638" width="1.3" height="115.6" fill="#d44c4a"/>
<rect x="889.04" y="638" width="9" height="75.6" fill="#ef5350"/>
<rect x="906.17" y="675.2" width="1.3" height="95.5" fill="#d44c4a"/>
<rect x="902.32" y="675.2" width="9" height="52.7" fill="#ef5350"/>
<rect x="919.44" y="663.9" width="1.3" height="80.7" fill="#d44c4a"/>
<rect x="915.59" y="701.1" width="9" height="10.7" fill="#ef5350"/>
<rect x="932.72" y="647.9" width="1.3" height="197.1" fill="#d44c4a"/>
<rect x="928.87" y="706.1" width="9" height="25.7" fill="#ef5350"/>
<rect x="946" y="647.9" width="1.3" height="71.7" fill="#2b968b"/>
<rect x="942.15" y="679.7" width="9" height="39.9" fill="#26a69a"/>
<rect x="959.28" y="626.1" width="1.3" height="74.1" fill="#2b968b"/>
<rect x="955.43" y="662.2" width="9" height="38" fill="#26a69a"/>
<rect x="972.56" y="641.6" width="1.3" height="104.1" fill="#d44c4a"/>
<rect x="968.71" y="681.3" width="9" height="13.3" fill="#ef5350"/>
<rect x="985.83" y="481" width="1.3" height="248.6" fill="#2b968b"/>
<rect x="981.98" y="613.1" width="9" height="75.6" fill="#26a69a"/>
<rect x="999.11" y="455.1" width="1.3" height="195.7" fill="#2b968b"/>
<rect x="995.26" y="496" width="9" height="154.8" fill="#26a69a"/>
<rect x="1012.39" y="439.2" width="1.3" height="134.6" fill="#2b968b"/>
<rect x="1008.54" y="481.1" width="9" height="92.7" fill="#26a69a"/>
<rect x="1025.67" y="487.1" width="1.3" height="83.3" fill="#2b968b"/>
<rect x="1021.82" y="524.2" width="9" height="3.9" fill="#26a69a"/>
<rect x="1038.95" y="526.2" width="1.3" height="162.8" fill="#d44c4a"/>
<rect x="1035.1" y="526.2" width="9" height="86.4" fill="#ef5350"/>
<rect x="1052.22" y="569.2" width="1.3" height="119.5" fill="#d44c4a"/>
<rect x="1048.37" y="569.2" width="9" height="98.5" fill="#ef5350"/>
<rect x="1065.5" y="617.4" width="1.3" height="89.1" fill="#d44c4a"/>
<rect x="1061.65" y="617.4" width="9" height="60.5" fill="#ef5350"/>
<rect x="1078.78" y="648.2" width="1.3" height="92.5" fill="#d44c4a"/>
<rect x="1074.93" y="648.2" width="9" height="52" fill="#ef5350"/>
<rect x="1092.06" y="660.2" width="1.3" height="55.5" fill="#d44c4a"/>
<rect x="1088.21" y="674" width="9" height="18.8" fill="#ef5350"/>
<rect x="1105.34" y="542" width="1.3" height="143.8" fill="#2b968b"/>
<rect x="1101.49" y="619" width="9" height="64.7" fill="#26a69a"/>
<rect x="1118.61" y="561.9" width="1.3" height="127.6" fill="#2b968b"/>
<rect x="1114.76" y="619" width="9" height="32.7" fill="#26a69a"/>
<rect x="1131.89" y="627.3" width="1.3" height="73.5" fill="#d44c4a"/>
<rect x="1128.04" y="635.1" width="9" height="33.4" fill="#ef5350"/>
<rect x="1145.17" y="651.1" width="1.3" height="34.7" fill="#d44c4a"/>
<rect x="1141.32" y="651.1" width="9" height="26.7" fill="#ef5350"/>
<rect x="1158.45" y="664.6" width="1.3" height="61" fill="#d44c4a"/>
<rect x="1154.6" y="664.6" width="9" height="32" fill="#ef5350"/>
<rect x="1171.73" y="639.9" width="1.3" height="86.6" fill="#d44c4a"/>
<rect x="1167.88" y="679.9" width="9" height="4.4" fill="#ef5350"/>
<rect x="1185" y="641.2" width="1.3" height="64.5" fill="#2b968b"/>
<rect x="1181.15" y="664.6" width="9" height="18.3" fill="#26a69a"/>
<rect x="1198.28" y="574.2" width="1.3" height="105.3" fill="#2b968b"/>
<rect x="1194.43" y="627.9" width="9" height="45.7" fill="#26a69a"/>
<rect x="1211.56" y="583.1" width="1.3" height="67.7" fill="#2b968b"/>
<rect x="1207.71" y="600" width="9" height="50.8" fill="#26a69a"/>
<rect x="1224.84" y="549" width="1.3" height="83.3" fill="#2b968b"/>
<rect x="1220.99" y="589" width="9" height="37" fill="#26a69a"/>
<rect x="1238.12" y="548" width="1.3" height="59.5" fill="#2b968b"/>
<rect x="1234.27" y="564.2" width="9" height="43.3" fill="#26a69a"/>
<rect x="1251.39" y="551.9" width="1.3" height="51" fill="#2b968b"/>
<rect x="1247.54" y="575.8" width="9" height="9.9" fill="#26a69a"/>
<rect x="1264.67" y="580.6" width="1.3" height="37.1" fill="#d44c4a"/>
<rect x="1260.82" y="580.6" width="9" height="15.9" fill="#ef5350"/>
<rect x="1277.95" y="512.9" width="1.3" height="91.9" fill="#2b968b"/>
<rect x="1274.1" y="567.1" width="9" height="22.4" fill="#26a69a"/>
<rect x="1291.23" y="526.3" width="1.3" height="52.2" fill="#2b968b"/>
<rect x="1287.38" y="544.6" width="9" height="33.9" fill="#26a69a"/>
<rect x="1304.51" y="481.7" width="1.3" height="80" fill="#2b968b"/>
<rect x="1300.66" y="511.1" width="9" height="50.6" fill="#26a69a"/>
<rect x="1317.78" y="450" width="1.3" height="86.7" fill="#2b968b"/>
<rect x="1313.93" y="481.1" width="9" height="55.6" fill="#26a69a"/>
<rect x="1331.06" y="460.5" width="1.3" height="48" fill="#2b968b"/>
<rect x="1327.21" y="474.2" width="9" height="34.3" fill="#26a69a"/>
<rect x="1344.34" y="382.5" width="1.3" height="109.5" fill="#2b968b"/>
<rect x="1340.49" y="429.1" width="9" height="62.9" fill="#26a69a"/>
<rect x="1357.62" y="335.9" width="1.3" height="124" fill="#2b968b"/>
<rect x="1353.77" y="372.6" width="9" height="87.3" fill="#26a69a"/>
<rect x="1370.9" y="339.8" width="1.3" height="76.8" fill="#2b968b"/>
<rect x="1367.05" y="369" width="9" height="47.6" fill="#26a69a"/>
<rect x="1384.17" y="354.7" width="1.3" height="43.1" fill="#2b968b"/>
<rect x="1380.32" y="373.2" width="9" height="19.8" fill="#26a69a"/>
<rect x="1397.45" y="357.7" width="1.3" height="87.9" fill="#d44c4a"/>
<rect x="1393.6" y="383.1" width="9" height="21.6" fill="#ef5350"/>
<rect x="1410.73" y="389.8" width="1.3" height="91.9" fill="#d44c4a"/>
<rect x="1406.88" y="393.8" width="9" height="34.9" fill="#ef5350"/>
<rect x="1424.01" y="372" width="1.3" height="56.1" fill="#2b968b"/>
<rect x="1420.16" y="408.7" width="9" height="3" fill="#26a69a"/>
<rect x="1437.29" y="362.7" width="1.3" height="71" fill="#2b968b"/>
<rect x="1433.44" y="406.3" width="9" height="3.4" fill="#26a69a"/>
<rect x="1450.56" y="383.9" width="1.3" height="66.1" fill="#d44c4a"/>
<rect x="1446.71" y="407.7" width="9" height="1.2" fill="#ef5350"/>
<rect x="1463.84" y="372.6" width="1.3" height="70.4" fill="#d44c4a"/>
<rect x="1459.99" y="408.3" width="9" height="3.6" fill="#ef5350"/>
<rect x="1477.12" y="409.3" width="1.3" height="113.1" fill="#d44c4a"/>
<rect x="1473.27" y="409.3" width="9" height="70" fill="#ef5350"/>
<rect x="1490.4" y="444.4" width="1.3" height="92.5" fill="#d44c4a"/>
<rect x="1486.55" y="444.4" width="9" height="72.4" fill="#ef5350"/>
<rect x="1503.68" y="480.3" width="1.3" height="78.9" fill="#d44c4a"/>
<rect x="1499.83" y="480.3" width="9" height="48.4" fill="#ef5350"/>
<rect x="1516.95" y="504.1" width="1.3" height="55.1" fill="#d44c4a"/>
<rect x="1513.1" y="504.1" width="9" height="42.4" fill="#ef5350"/>
<rect x="1530.23" y="510.9" width="1.3" height="56.6" fill="#d44c4a"/>
<rect x="1526.38" y="525.1" width="9" height="18.6" fill="#ef5350"/>
<rect x="1543.51" y="534.2" width="1.3" height="131.7" fill="#d44c4a"/>
<rect x="1539.66" y="534.2" width="9" height="72.4" fill="#ef5350"/>
<rect x="1556.79" y="570.8" width="1.3" height="93.8" fill="#d44c4a"/>
<rect x="1552.94" y="570.8" width="9" height="70.9" fill="#ef5350"/>
<rect x="1570.07" y="580.2" width="1.3" height="73.1" fill="#d44c4a"/>
<rect x="1566.22" y="606.2" width="9" height="10.4" fill="#ef5350"/>
<rect x="1583.34" y="581.1" width="1.3" height="71.6" fill="#d44c4a"/>
<rect x="1579.49" y="611.3" width="9" height="6.3" fill="#ef5350"/>
<rect x="1596.62" y="606" width="1.3" height="38.6" fill="#d44c4a"/>
<rect x="1592.77" y="614.2" width="9" height="12.9" fill="#ef5350"/>
<rect x="1609.9" y="611.7" width="1.3" height="25.1" fill="#d44c4a"/>
<rect x="1606.05" y="620.3" width="9" height="1.9" fill="#ef5350"/>
<rect x="1623.18" y="615.2" width="1.3" height="20.5" fill="#d44c4a"/>
<rect x="1619.33" y="621.2" width="9" height="14.5" fill="#ef5350"/>
<rect x="1636.46" y="596.1" width="1.3" height="94.5" fill="#d44c4a"/>
<rect x="1632.61" y="628.2" width="9" height="8.6" fill="#ef5350"/>
<rect x="1649.73" y="606.2" width="1.3" height="25.8" fill="#2b968b"/>
<rect x="1645.88" y="606.2" width="9" height="25.8" fill="#26a69a"/>
</g>
<g clip-path="url(#cr)">
<polyline fill="none" stroke="#0b7d10" stroke-width="2.6" stroke-linejoin="round" stroke-linecap="round" points="13,1212.63 17.19,1210.98 30.47,1216.14 43.75,1222.34 57.02,1230.6 70.3,1222.34 83.58,1229.15 96.86,1227.5 110.14,1218.21 123.41,1222.96 136.69,1237.83 149.97,1253.94 163.25,1240.31 176.53,1233.08 189.8,1233.08 203.08,1233.08 216.36,1234.73 229.64,1251.25 242.92,1408.62 256.19,1410.9 269.47,1388.59 282.75,1376.2 296.03,1366.91 309.31,1374.55 322.58,1381.98 335.86,1379.92 349.14,1391.07 362.42,1396.85 375.7,1400.98 388.97,1402.64 402.25,1400.98 415.53,1422.05 428.81,1419.98 442.09,1421.64 455.36,1422.67 468.64,1436.51 481.92,1330 495.2,1238.32 508.48,1247.61 521.75,1247.61 535.03,1239.76 548.31,1238.73 561.59,1257.94 574.87,1280.24 588.14,1275.08 601.42,1274.87 614.7,1275.29 627.98,1271.36 641.26,1266.2 654.53,1261.66 667.81,1218.7 681.09,1201.14 694.37,1208.79 707.65,1200.52 720.92,1195.57 734.2,1197.43 747.48,1202.59 760.76,1200.11 774.04,1197.43 787.31,1199.7 800.59,1201.14 813.87,1188.34 827.15,1188.75 840.43,1162.94 853.7,1135.68 866.98,1136.29 880.26,1214.57 893.54,1284.17 906.82,1282.1 920.09,1281.07 933.37,1286.85 946.65,1268.88 959.93,1269.5 973.21,1265.87 986.48,1225.6 999.76,1146.71 1013.04,1146.09 1026.32,1140.31 1039.6,1106.85 1052.87,1094.87 1066.15,1145.06 1079.43,1174.38 1092.71,1175.21 1105.99,1152.28 1119.26,1157.86 1132.54,1144.02 1145.82,1143.4 1159.1,1151.46 1172.38,1153.11 1185.65,1151.46 1198.93,1143.4 1212.21,1150.63 1225.49,1151.66 1238.77,1173.97 1252.04,1203.5 1265.32,1201.02 1278.6,1202.26 1291.88,1213.62 1305.16,1209.08 1318.43,1205.98 1331.71,1208.46 1344.99,1216.72 1358.27,1204.33 1371.55,1211.14 1384.82,1255.55 1398.1,1344.24 1411.38,1342.13 1424.66,1352.67 1437.94,1414.47 1451.21,1443.54 1464.49,1444.24 1477.77,1415.87 1491.05,1405.06 1504.33,1457.3 1517.6,1454.78 1530.88,1480.2 1544.16,1442.13 1557.44,1434.83 1570.72,1430.62 1583.99,1434.13 1597.27,1446.77 1610.55,1454.49 1623.83,1453.79 1637.11,1459.83 1650.38,1451.69"/>
</g>
<g shape-rendering="crispEdges">
<rect x="12.5" y="34.5" width="2535.0" height="1520.0" fill="none" stroke="#e2e5ec" stroke-width="1"/>
<line x1="2459.5" y1="34.5" x2="2459.5" y2="1554.5" stroke="#e2e5ec" stroke-width="1"/>
<line x1="12.5" y1="1519.5" x2="2547.5" y2="1519.5" stroke="#e2e5ec" stroke-width="1"/>
<line x1="12.5" y1="1047.5" x2="2547.5" y2="1047.5" stroke="#e2e5ec" stroke-width="1"/>
</g>
<text x="2472.8" y="1008.1" font-size="15" fill="#131722" textLength="59.4" lengthAdjust="spacingAndGlyphs">30000.00</text>
<text x="2472.8" y="934.9" font-size="15" fill="#131722" textLength="59.4" lengthAdjust="spacingAndGlyphs">32000.00</text>
<text x="2472.8" y="861.7" font-size="15" fill="#131722" textLength="59.4" lengthAdjust="spacingAndGlyphs">34000.00</text>
<text x="2472.8" y="788.5" font-size="15" fill="#131722" textLength="59.4" lengthAdjust="spacingAndGlyphs">36000.00</text>
<text x="2472.8" y="715.3" font-size="15" fill="#131722" textLength="59.4" lengthAdjust="spacingAndGlyphs">38000.00</text>
<text x="2472.8" y="568.9" font-size="15" fill="#131722" textLength="59.4" lengthAdjust="spacingAndGlyphs">42000.00</text>
<text x="2472.8" y="495.7" font-size="15" fill="#131722" textLength="59.4" lengthAdjust="spacingAndGlyphs">44000.00</text>
<text x="2472.8" y="422.5" font-size="15" fill="#131722" textLength="59.4" lengthAdjust="spacingAndGlyphs">46000.00</text>
<text x="2472.8" y="349.3" font-size="15" fill="#131722" textLength="59.4" lengthAdjust="spacingAndGlyphs">48000.00</text>
<text x="2472.8" y="276.1" font-size="15" fill="#131722" textLength="59.4" lengthAdjust="spacingAndGlyphs">50000.00</text>
<text x="2472.8" y="202.9" font-size="15" fill="#131722" textLength="59.4" lengthAdjust="spacingAndGlyphs">52000.00</text>
<text x="2472.8" y="129.7" font-size="15" fill="#131722" textLength="59.4" lengthAdjust="spacingAndGlyphs">54000.00</text>
<text x="2472.8" y="56.5" font-size="15" fill="#131722" textLength="59.4" lengthAdjust="spacingAndGlyphs">56000.00</text>
<text x="2472.3" y="1485.76" font-size="15" fill="#131722" textLength="36.7" lengthAdjust="spacingAndGlyphs">32.00</text>
<text x="2472.3" y="1436.44" font-size="15" fill="#131722" textLength="36.7" lengthAdjust="spacingAndGlyphs">36.00</text>
<text x="2472.3" y="1387.12" font-size="15" fill="#131722" textLength="36.7" lengthAdjust="spacingAndGlyphs">40.00</text>
<text x="2472.3" y="1337.8" font-size="15" fill="#131722" textLength="36.7" lengthAdjust="spacingAndGlyphs">44.00</text>
<text x="2472.3" y="1288.48" font-size="15" fill="#131722" textLength="36.7" lengthAdjust="spacingAndGlyphs">48.00</text>
<text x="2472.3" y="1239.16" font-size="15" fill="#131722" textLength="36.7" lengthAdjust="spacingAndGlyphs">52.00</text>
<text x="2472.3" y="1189.84" font-size="15" fill="#131722" textLength="36.7" lengthAdjust="spacingAndGlyphs">56.00</text>
<text x="2472.3" y="1140.52" font-size="15" fill="#131722" textLength="36.7" lengthAdjust="spacingAndGlyphs">60.00</text>
<text x="2472.3" y="1091.2" font-size="15" fill="#131722" textLength="36.7" lengthAdjust="spacingAndGlyphs">64.00</text>
<text x="70.3" y="1543" font-size="14.3" fill="#131722" text-anchor="middle">21</text>
<text x="216.36" y="1543" font-size="14.6" fill="#131722" text-anchor="middle" font-weight="bold">2022</text>
<text x="335.86" y="1543" font-size="14.3" fill="#131722" text-anchor="middle">10</text>
<text x="521.75" y="1543" font-size="14.3" fill="#131722" text-anchor="middle">24</text>
<text x="627.98" y="1543" font-size="14.3" fill="#131722" text-anchor="middle">Feb</text>
<text x="800.59" y="1543" font-size="14.3" fill="#131722" text-anchor="middle">14</text>
<text x="999.76" y="1543" font-size="14.3" fill="#131722" text-anchor="middle">Mar</text>
<text x="1172.38" y="1543" font-size="14.3" fill="#131722" text-anchor="middle">14</text>
<text x="1278.6" y="1543" font-size="14.3" fill="#131722" text-anchor="middle">22</text>
<text x="1411.38" y="1543" font-size="14.3" fill="#131722" text-anchor="middle">Apr</text>
<text x="1544.16" y="1543" font-size="14.3" fill="#131722" text-anchor="middle">11</text>
<text x="1650.38" y="1543" font-size="14.3" fill="#131722" text-anchor="middle">19</text>
<text x="1809.72" y="1543" font-size="14.3" fill="#131722" text-anchor="middle">May</text>
<text x="1915.94" y="1543" font-size="14.3" fill="#131722" text-anchor="middle">9</text>
<text x="2101.84" y="1543" font-size="14.3" fill="#131722" text-anchor="middle">23</text>
<text x="2221.34" y="1543" font-size="14.3" fill="#131722" text-anchor="middle">Jun</text>
<text x="2380.67" y="1543" font-size="14.3" fill="#131722" text-anchor="middle">13</text>
<path d="M2459.3,227.55H2539.5a2,2 0 0 1 2,2V247.05a2,2 0 0 1 -2,2H2459.3Z" fill="#a5d6a7"/>
<text x="2473" y="243.7" font-size="15" fill="#131722" textLength="60.2" lengthAdjust="spacingAndGlyphs">50888.02</text>
<path d="M2459.3,358.45H2539.5a2,2 0 0 1 2,2V377.95a2,2 0 0 1 -2,2H2459.3Z" fill="#c8e6c9"/>
<text x="2473" y="374.6" font-size="15" fill="#131722" textLength="60.2" lengthAdjust="spacingAndGlyphs">47311.36</text>
<path d="M2459.3,470.4H2539.5a2,2 0 0 1 2,2V489.9a2,2 0 0 1 -2,2H2459.3Z" fill="#ffe0b2"/>
<text x="2473" y="486.55" font-size="15" fill="#131722" textLength="60.2" lengthAdjust="spacingAndGlyphs">44252.78</text>
<path d="M2459.3,519.67H2539.5a2,2 0 0 1 2,2V539.17a2,2 0 0 1 -2,2H2459.3Z" fill="#ffe0b2"/>
<text x="2473" y="535.82" font-size="15" fill="#131722" textLength="60.2" lengthAdjust="spacingAndGlyphs">42906.55</text>
<path d="M2459.3,564.8H2539.5a2,2 0 0 1 2,2V584.3a2,2 0 0 1 -2,2H2459.3Z" fill="#ffe0b2"/>
<text x="2473" y="580.95" font-size="15" fill="#131722" textLength="60.2" lengthAdjust="spacingAndGlyphs">41673.50</text>
<path d="M2459.3,679.16H2539.5a2,2 0 0 1 2,2V698.66a2,2 0 0 1 -2,2H2459.3Z" fill="#ffcdd2"/>
<text x="2473" y="695.31" font-size="15" fill="#131722" textLength="60.2" lengthAdjust="spacingAndGlyphs">38548.90</text>
<path d="M2459.3,808.84H2539.5a2,2 0 0 1 2,2V828.34a2,2 0 0 1 -2,2H2459.3Z" fill="#ffcdd2"/>
<text x="2473" y="824.99" font-size="15" fill="#131722" textLength="60.2" lengthAdjust="spacingAndGlyphs">35005.87</text>
<path d="M2459.3,595.2H2539.5a2,2 0 0 1 2,2V633.9H2459.3Z" fill="#26a69a"/>
<text x="2473" y="611.3" font-size="15" fill="#ffffff" textLength="60.2" lengthAdjust="spacingAndGlyphs">40850.57</text>
<text x="2473" y="628.9" font-size="15" fill="#ffffff" textLength="57.8" lengthAdjust="spacingAndGlyphs" fill-opacity="0.85">17:45:47</text>
<path d="M2459.3,634.3H2541.5V654.3a2,2 0 0 1 -2,2H2459.3Z" fill="#ef5350"/>
<text x="2473" y="650.2" font-size="15" fill="#ffffff" textLength="60.2" lengthAdjust="spacingAndGlyphs">40722.43</text>
<rect x="2391.1" y="595.6" width="66.7" height="21.3" rx="2" fill="#26a69a"/>
<text x="2398.5" y="611.3" font-size="15" fill="#ffffff" textLength="52.4" lengthAdjust="spacingAndGlyphs">BTCUSD</text>
<rect x="2485.5" y="42.5" width="36" height="23" rx="4.5" fill="#ffffff" stroke="#e0e3eb" stroke-width="1"/>
<text x="2491.3" y="58.9" font-size="15" fill="#131722" textLength="24.9" lengthAdjust="spacingAndGlyphs">USD</text>
<text x="13" y="24.2" font-size="15" fill="#131722" textLength="450.2" lengthAdjust="spacingAndGlyphs">mbottacini published on TradingView.com, Apr 19, 2022 06:14 UTC</text>
<text x="22.7" y="58.6" font-size="15" fill="#131722" textLength="321.5" lengthAdjust="spacingAndGlyphs">Bitcoin / U.S. Dollar, 1D, COINBASE, Heikin Ashi</text>
<text x="355.4" y="58.6" font-size="15" fill="#131722" textLength="9.4" lengthAdjust="spacingAndGlyphs">O</text>
<text x="365.2" y="58.6" font-size="15" fill="#26a69a" textLength="59.5" lengthAdjust="spacingAndGlyphs">40140.75</text>
<text x="435" y="58.6" font-size="15" fill="#131722" textLength="9.4" lengthAdjust="spacingAndGlyphs">H</text>
<text x="445" y="58.6" font-size="15" fill="#26a69a" textLength="59.8" lengthAdjust="spacingAndGlyphs">41268.44</text>
<text x="515.6" y="58.6" font-size="15" fill="#131722" textLength="7" lengthAdjust="spacingAndGlyphs">L</text>
<text x="523" y="58.6" font-size="15" fill="#26a69a" textLength="59.5" lengthAdjust="spacingAndGlyphs">40140.75</text>
<text x="593" y="58.6" font-size="15" fill="#131722" textLength="8.6" lengthAdjust="spacingAndGlyphs">C</text>
<text x="602.2" y="58.6" font-size="15" fill="#26a69a" textLength="59.5" lengthAdjust="spacingAndGlyphs">40850.57</text>
<text x="672.1" y="58.6" font-size="15" fill="#26a69a" textLength="113.4" lengthAdjust="spacingAndGlyphs">+815.55 (+2.04%)</text>
<text x="22.7" y="80.9" font-size="15" fill="#131722" textLength="293.8" lengthAdjust="spacingAndGlyphs">VPVR (Number Of Rows, 100, Up/Down, 70)</text>
<text x="327.1" y="80.9" font-size="15" fill="#1e88e5" textLength="53" lengthAdjust="spacingAndGlyphs">14.934K</text>
<text x="390" y="80.9" font-size="15" fill="#fbc02d" textLength="53.3" lengthAdjust="spacingAndGlyphs">16.944K</text>
<text x="452.8" y="80.9" font-size="15" fill="#131722" textLength="52.8" lengthAdjust="spacingAndGlyphs">31.878K</text>
<text x="22.7" y="101.9" font-size="15" fill="#131722" textLength="19.7" lengthAdjust="spacingAndGlyphs">Vol</text>
<text x="53.3" y="101.9" font-size="15" fill="#26a69a" textLength="43.7" lengthAdjust="spacingAndGlyphs">1.798K</text>
<text x="23.1" y="1072.4" font-size="15" fill="#131722" textLength="107" lengthAdjust="spacingAndGlyphs">RV (30, 365, 10)</text>
<text x="140.5" y="1072.4" font-size="15" fill="#0b7d10" textLength="36.4" lengthAdjust="spacingAndGlyphs">34.27</text>
<g fill="#131722">
<path d="M12.9,1570.2H23.1V1581.8H17.3V1574.5H12.9Z"/>
<circle cx="26.4" cy="1572.3" r="2.1"/>
<path d="M31.1,1570.2H36.7L32.7,1581.8H27.1Z"/>
</g>
<text x="42" y="1582.6" font-size="16.5" fill="#131722" textLength="87.9" lengthAdjust="spacingAndGlyphs">TradingView</text>
</svg>
</body></html>
